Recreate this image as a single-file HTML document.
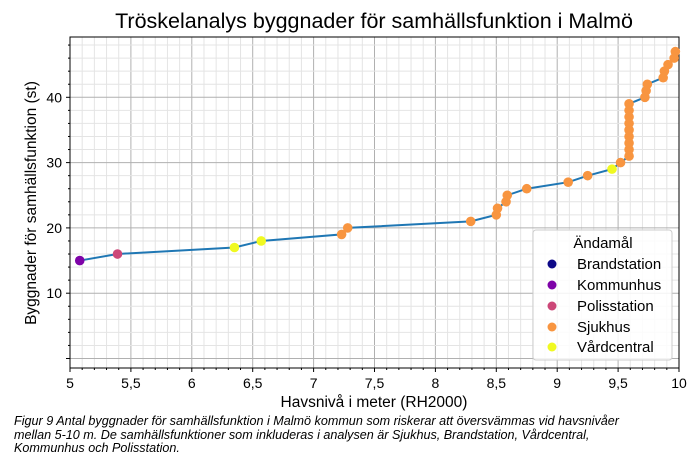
<!DOCTYPE html>
<html><head><meta charset="utf-8"><style>
body{margin:0;background:#fff;width:700px;height:459px;overflow:hidden;font-family:"Liberation Sans",sans-serif}
</style></head><body>
<svg id="s" width="700" height="459" xmlns="http://www.w3.org/2000/svg" font-family="Liberation Sans, sans-serif">
<text x="374" y="28" font-size="21.5" text-anchor="middle" fill="#000">Tröskelanalys byggnader för samhällsfunktion i Malmö</text>
<g id="grid"></g>
<rect x="70" y="37" width="609" height="331" fill="none" stroke="#000" stroke-width="1"/>
<g id="ticks" font-size="14" fill="#000"></g>
<text x="374" y="407" font-size="15.5" text-anchor="middle">Havsnivå i meter (RH2000)</text>
<text transform="translate(36,203) rotate(-90)" font-size="15.5" text-anchor="middle">Byggnader för samhällsfunktion (st)</text>
<polyline id="line" fill="none" stroke="#1f77b4" stroke-width="2"/>
<g id="pts"></g>
<rect x="533" y="230" width="139" height="130" rx="3" fill="#fff" fill-opacity="0.85" stroke="#ccc"/>
<text x="603" y="248" font-size="15" text-anchor="middle">Ändamål</text>
<g font-size="15">
<circle cx="552" cy="264" r="4.5" fill="#0d0887"/><text x="577" y="269">Brandstation</text>
<circle cx="552" cy="285" r="4.5" fill="#7e03a8"/><text x="577" y="290">Kommunhus</text>
<circle cx="552" cy="306" r="4.5" fill="#cc4778"/><text x="577" y="311">Polisstation</text>
<circle cx="552" cy="327" r="4.5" fill="#f89540"/><text x="577" y="332">Sjukhus</text>
<circle cx="552" cy="347" r="4.5" fill="#f0f921"/><text x="577" y="352">Vårdcentral</text>
</g>
<g font-size="12.6" font-style="italic">
<text x="14" y="425">Figur 9 Antal byggnader för samhällsfunktion i Malmö kommun som riskerar att översvämmas vid havsnivåer</text>
<text x="14" y="439">mellan 5-10 m. De samhällsfunktioner som inkluderas i analysen är Sjukhus, Brandstation, Vårdcentral,</text>
<text x="14" y="452">Kommunhus och Polisstation.</text>
</g>
</svg>
<script>
var NS="http://www.w3.org/2000/svg";
function X(v){return 70+(v-5)*121.8}
function Y(n){return 358.5-n*6.53}
function el(p,t,a){var e=document.createElementNS(NS,t);for(var k in a)e.setAttribute(k,a[k]);p.appendChild(e);return e}
var g=document.getElementById("grid"),tk=document.getElementById("ticks");
for(var i=0;i<=50;i++){var v=5+i*0.1,x=X(v),maj=i%5==0;
el(g,"line",{x1:x,x2:x,y1:37,y2:368,stroke:maj?"#b0b0b0":"#e4e4e4","stroke-width":1});
el(tk,"line",{x1:x,x2:x,y1:368,y2:maj?372:370,stroke:"#000"});
if(maj){var t=el(tk,"text",{x:x,y:388,"text-anchor":"middle"});var s=(Math.round(v*10)/10).toString().replace(".",",");t.textContent=s;}}
for(var n=0;n<=48;n+=2){var y=Y(n),maj=n%10==0;
el(g,"line",{x1:70,x2:679,y1:y,y2:y,stroke:maj?"#b0b0b0":"#e4e4e4","stroke-width":1});
el(tk,"line",{x1:70,x2:maj?66:68,y1:y,y2:y,stroke:"#000"});
if(maj&&n>0){var t=el(tk,"text",{x:62,y:y+5,"text-anchor":"end"});t.textContent=n;}}
var B="#0d0887",K="#7e03a8",P="#cc4778",S="#f89540",V="#f0f921";
var d=[[5.08,15,K],[5.39,16,P],[6.35,17,V],[6.57,18,V],[7.23,19,S],[7.28,20,S],[8.29,21,S],[8.5,22,S],[8.51,23,S],[8.58,24,S],[8.59,25,S],[8.75,26,S],[9.09,27,S],[9.25,28,S],[9.45,29,V],[9.52,30,S]];
for(var n=31;n<=39;n++)d.push([9.59,n,S]);
d.push([9.72,40,S],[9.73,41,S],[9.74,42,S],[9.87,43,S],[9.88,44,S],[9.91,45,S],[9.96,46,S],[9.97,47,S]);
document.getElementById("line").setAttribute("points",d.map(function(p){return X(p[0])+","+Y(p[1])}).join(" "));
var pg=document.getElementById("pts");
d.forEach(function(p){el(pg,"circle",{cx:X(p[0]),cy:Y(p[1]),r:4.8,fill:p[2]})});
</script>
</body></html>
